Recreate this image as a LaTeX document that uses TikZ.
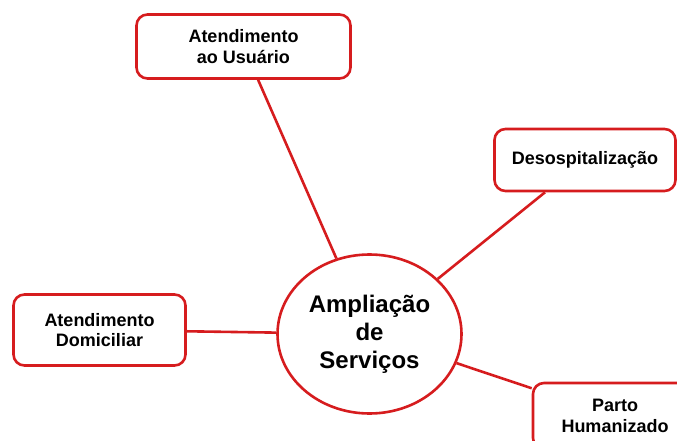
\documentclass[tikz,border=0pt]{standalone}
\usepackage{fontspec}
\setmainfont{Liberation Sans}
\usetikzlibrary{shapes.geometric}
\definecolor{mapred}{RGB}{214,28,30}
\begin{document}
\begin{tikzpicture}[x=1pt, y=-1pt,
    topic/.style={draw=mapred, line width=2.6pt, rounded corners=11pt, fill=white,
        align=center, inner sep=0pt, font=\bfseries\fontsize{18}{20.5}\selectfont},
    hub/.style={ellipse, draw=mapred, line width=2.6pt, fill=white, align=center,
        inner sep=0pt, minimum width=184pt, minimum height=159pt,
        font=\bfseries\fontsize{24}{28}\selectfont},
    link/.style={mapred, line width=2.6pt}]

    \useasboundingbox (0,0) rectangle (677,441);
    \clip (0,0) rectangle (677,441);

    \node[hub] (hub) at (369.5,334) {Ampliação\\de\\Serviços};

    \node[topic, minimum width=214pt, minimum height=64pt] (usuario) at (243.5,46.5) {Atendimento\\ao Usuário};
    \node[topic, minimum width=181pt, minimum height=62pt] (desosp) at (585,160) {Desospitalização};
    \node[topic, minimum width=172pt, minimum height=71pt] (domicilio) at (99.5,330) {Atendimento\\Domiciliar};
    \node[topic, minimum width=164pt, minimum height=66pt] (parto) at (615,416) {Parto\\Humanizado};

    \draw[link] (usuario) -- (hub);
    \draw[link] (desosp) -- (hub);
    \draw[link] (domicilio) -- (hub);
    \draw[link] (hub) -- (parto);

\end{tikzpicture}
\end{document}
